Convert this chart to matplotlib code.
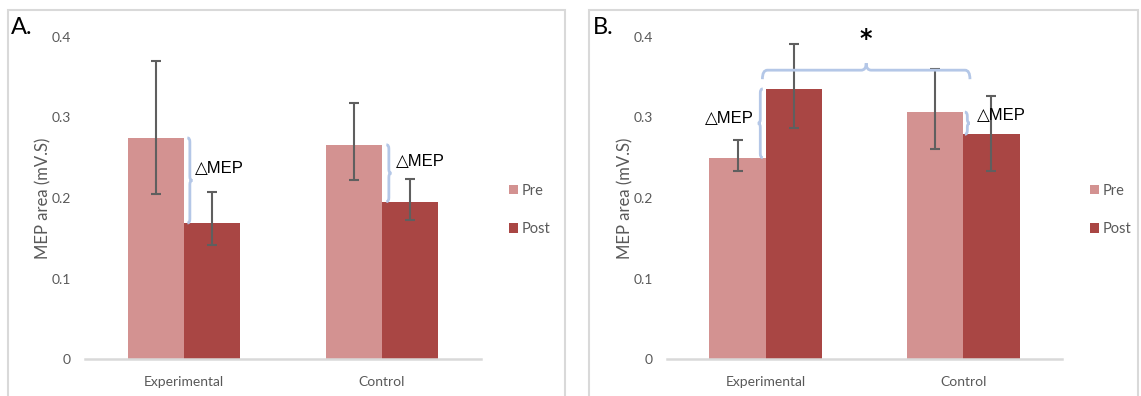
import numpy as np
import matplotlib
matplotlib.use("Agg")
import matplotlib.pyplot as plt
from matplotlib.path import Path
from matplotlib.patches import PathPatch, Rectangle

# MEP area (mV.S), pre vs post, per group
groups = ["Experimental", "Control"]
series = ["Pre", "Post"]

# A.
a_pre = [0.2745, 0.266]
a_post = [0.169, 0.1955]
a_pre_lo = [0.2046, 0.222]
a_pre_hi = [0.370, 0.318]
a_post_lo = [0.142, 0.1725]
a_post_hi = [0.207, 0.224]

# B.
b_pre = [0.250, 0.3065]
b_post = [0.3353, 0.279]
b_pre_lo = [0.2333, 0.2605]
b_pre_hi = [0.2716, 0.360]
b_post_lo = [0.287, 0.2337]
b_post_hi = [0.391, 0.326]

yticks = [0, 0.1, 0.2, 0.3, 0.4]
ytick_labels = ["0", "0.1", "0.2", "0.3", "0.4"]

c_pre = "#d39291"
c_post = "#a94644"
c_err = "#5f5f5f"
c_txt = "#595959"
c_grid = "#d9d9d9"
c_brace = "#b4c7e7"

plt.rcParams["font.family"] = ["Lato", "DejaVu Sans"]

W, H = 1141, 396
fig = plt.figure(figsize=(W / 100, H / 100), dpi=100)

bw = 0.285


def brace_v(ax, x, ya, yb, d, s=2.5, r=4):
    kx = ax.bbox.width / np.ptp(ax.get_xlim())
    ky = ax.bbox.height / np.ptp(ax.get_ylim())
    sx, ry = d * s / kx, r / ky
    lo, hi = min(ya, yb), max(ya, yb)
    ym = (lo + hi) / 2
    verts = [(x, hi), (x + sx, hi), (x + sx, hi - ry),
             (x + sx, ym + ry), (x + sx, ym), (x + 2 * sx, ym),
             (x + sx, ym), (x + sx, ym - ry),
             (x + sx, lo + ry), (x + sx, lo), (x, lo)]
    codes = [Path.MOVETO, Path.CURVE3, Path.CURVE3, Path.LINETO,
             Path.CURVE3, Path.CURVE3, Path.CURVE3, Path.CURVE3,
             Path.LINETO, Path.CURVE3, Path.CURVE3]
    ax.add_patch(PathPatch(Path(verts, codes), fc="none", ec=c_brace,
                           lw=2, clip_on=False, zorder=5))


def brace_h(ax, xa, xb, y, drop=9, tip=7, r=5):
    # y is the spine; ends hang down by drop px, middle tip rises by tip px
    kx = ax.bbox.width / np.ptp(ax.get_xlim())
    ky = ax.bbox.height / np.ptp(ax.get_ylim())
    rx, dy, ty = r / kx, drop / ky, tip / ky
    xm = (xa + xb) / 2
    verts = [(xa, y - dy), (xa, y), (xa + rx, y),
             (xm - rx, y), (xm, y), (xm, y + ty),
             (xm, y), (xm + rx, y),
             (xb - rx, y), (xb, y), (xb, y - dy)]
    codes = [Path.MOVETO, Path.CURVE3, Path.CURVE3, Path.LINETO,
             Path.CURVE3, Path.CURVE3, Path.CURVE3, Path.CURVE3,
             Path.LINETO, Path.CURVE3, Path.CURVE3]
    ax.add_patch(PathPatch(Path(verts, codes), fc="none", ec=c_brace,
                           lw=2, clip_on=False, zorder=5))


def panel(rect, pre, post, pre_lo, pre_hi, post_lo, post_hi):
    ax = fig.add_axes(rect)
    x = np.arange(len(groups))
    b1 = ax.bar(x - bw / 2, pre, bw, color=c_pre, label=series[0], zorder=2)
    b2 = ax.bar(x + bw / 2, post, bw, color=c_post, label=series[1], zorder=2)
    for xs, v, lo, hi in [(x - bw / 2, pre, pre_lo, pre_hi),
                          (x + bw / 2, post, post_lo, post_hi)]:
        v = np.array(v)
        yerr = [v - np.array(lo), np.array(hi) - v]
        ax.errorbar(xs, v, yerr=yerr, fmt="none", ecolor=c_err, elinewidth=1.5,
                    capsize=3.3, capthick=1.5, zorder=3)
    ax.set_xlim(-0.5, 1.5)
    ax.set_ylim(0, 0.4)
    ax.set_yticks(yticks)
    ax.set_yticklabels(ytick_labels)
    ax.set_xticks(x)
    ax.set_xticklabels(groups)
    for sp in ["top", "right", "left"]:
        ax.spines[sp].set_visible(False)
    ax.spines["bottom"].set_color(c_grid)
    ax.spines["bottom"].set_linewidth(1.8)
    ax.tick_params(axis="both", length=0, labelsize=10, colors=c_txt)
    ax.tick_params(axis="y", pad=10)
    ax.tick_params(axis="x", pad=12)
    ax.set_ylabel("MEP area (mV.S)", fontsize=12, color=c_txt, labelpad=0.5)
    return ax, b1, b2


# panel frames
fig.add_artist(Rectangle((8 / W, -0.1), 557 / W, (H - 10) / H + 0.1,
                         transform=fig.transFigure, fc="none", ec=c_grid, lw=1.5))
fig.add_artist(Rectangle((589 / W, -0.1), 549 / W, (H - 10) / H + 0.1,
                         transform=fig.transFigure, fc="none", ec=c_grid, lw=1.5))

axA, a1, a2 = panel([85 / W, 36.7 / H, 396 / W, 322.6 / H],
                    a_pre, a_post, a_pre_lo, a_pre_hi, a_post_lo, a_post_hi)
axB, bb1, bb2 = panel([667 / W, 36.7 / H, 395 / W, 322.6 / H],
                      b_pre, b_post, b_pre_lo, b_pre_hi, b_post_lo, b_post_hi)

for ax, lx in [(axA, 509 / W), (axB, 1090 / W)]:
    leg = ax.legend(loc="upper left", bbox_to_anchor=(lx, 1 - 184 / H),
                    bbox_transform=fig.transFigure, frameon=False, fontsize=10.5,
                    handlelength=0.6, handleheight=0.6, handletextpad=0.25,
                    labelspacing=1.65, borderpad=0, borderaxespad=0)
    for t in leg.get_texts():
        t.set_color(c_txt)

# change in MEP between pre and post
dfont = dict(fontsize=12, color="black", va="center",
             family=["Liberation Sans", "DejaVu Sans"])
brace_v(axA, 0.017, a_pre[0], a_post[0], 1)
axA.text(0.056, 0.237, "\u25b3MEP", ha="left", **dfont)
brace_v(axA, 1.022, a_pre[1], a_post[1], 1)
axA.text(1.07, 0.245, "\u25b3MEP", ha="left", **dfont)

brace_v(axB, -0.015, b_pre[0], b_post[0], -1)
axB.text(-0.06, 0.299, "\u25b3MEP", ha="right", **dfont)
brace_v(axB, 1.008, b_pre[1], b_post[1], 1)
axB.text(1.068, 0.302, "\u25b3MEP", ha="left", **dfont)

brace_h(axB, -0.017, 1.034, 0.3585)
axB.text(0.508, 0.397, "*", ha="center", va="center", fontsize=17,
         fontweight="bold", family="DejaVu Sans")

fig.text(11 / W, 1 - 28 / H, "A.", fontsize=17, va="center", ha="left")
fig.text(593 / W, 1 - 28 / H, "B.", fontsize=17, va="center", ha="left")

fig.savefig("out.png", dpi=100)
